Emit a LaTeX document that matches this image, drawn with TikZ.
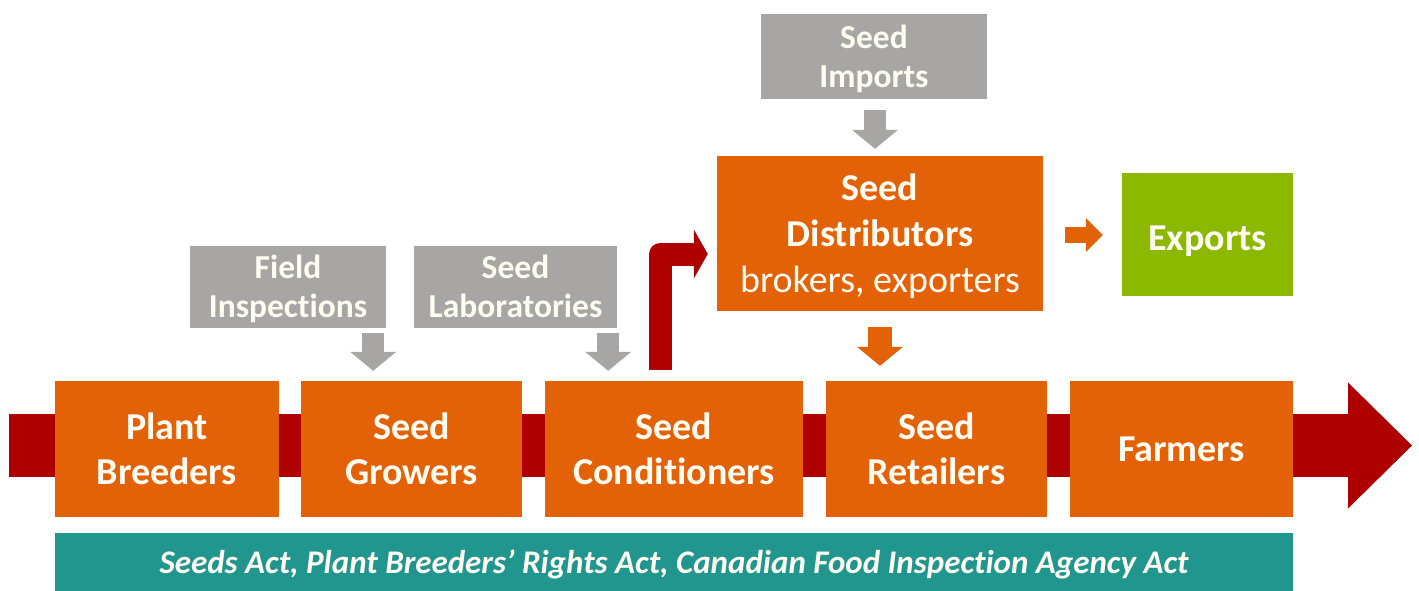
\documentclass[tikz,border=0pt]{standalone}
\usepackage{fontspec}
\setmainfont[Ligatures=NoCommon]{Carlito}
\usetikzlibrary{arrows.meta,calc}
\definecolor{boxorange}{RGB}{227,98,8}
\definecolor{flowred}{RGB}{175,0,0}
\definecolor{boxgray}{RGB}{168,166,164}
\definecolor{lawteal}{RGB}{33,150,143}
\definecolor{exgreen}{RGB}{140,184,0}
\definecolor{boxtext}{RGB}{255,252,242}
\tikzset{
  box/.style={inner sep=0pt, align=center, text=boxtext, text depth=0pt,
    font=\bfseries\fontsize{38}{45}\selectfont},
  stagebox/.style={box, fill=boxorange, minimum height=136pt},
  checkbox/.style={box, fill=boxgray, minimum height=82pt,
    font=\bfseries\fontsize{33.5}{39}\selectfont},
  grayarrow/.style={draw=boxgray, line width=22pt,
    -{Triangle[width=46pt,length=19pt,line width=0pt]}},
  orangearrow/.style={draw=boxorange, line width=24pt,
    -{Triangle[width=46pt,length=19pt,line width=0pt]}},
}
\begin{document}
\begin{tikzpicture}[x=1pt,y=-1pt]
\useasboundingbox[fill=white] (0,0) rectangle (1419,591);

% main flow arrow behind the stages
\coordinate (flowstart) at (9,445.5);
\coordinate (flowend) at (1412,445.5);
\draw[flowred, line width=63pt,
  -{Triangle[width=126pt,length=64pt,line width=0pt]}] (flowstart) -- (flowend);

% stages of the seed chain
\node[stagebox, minimum width=224pt] (pb) at (167,449) {Plant\\Breeders};
\node[stagebox, minimum width=221pt] (sg) at (411.5,449) {Seed\\Growers};
\node[stagebox, minimum width=258pt] (sc) at (674,449) {Seed\\Conditioners};
\node[stagebox, minimum width=221pt] (sr) at (936.5,449) {Seed\\Retailers};
\node[stagebox, minimum width=223pt] (fa) at (1181.5,449) {Farmers};

% distribution branch
\node[box, fill=boxorange, minimum width=326pt, minimum height=155pt,
  font=\fontsize{38}{46}\selectfont] (sd) at (880,233.5)
  {\textbf{Seed}\\\textbf{Distributors}\\brokers, exporters};
\node[box, fill=exgreen, minimum width=171pt, minimum height=123pt,
  text height=31pt] (ex) at (1207.5,234.5) {Exports};

% inspection and import inputs
\node[checkbox, minimum width=196pt] (fi) at (288,286.5) {Field\\Inspections};
\node[checkbox, minimum width=203pt] (sl) at (515.5,286.5) {Seed\\Laboratories};
\node[checkbox, minimum width=226pt, minimum height=85pt] (si) at (874,56.5) {Seed\\Imports};

% legislation bar
\node[box, fill=lawteal, minimum width=1238pt, minimum height=58pt,
  font=\bfseries\itshape\fontsize{33}{38}\selectfont] (law) at (674,562)
  {Seeds Act, Plant Breeders’ Rights Act, Canadian Food Inspection Agency Act};

% input arrows
\draw[grayarrow, shorten <=5pt, shorten >=10pt]
  ([xshift=-13pt]fi.south east) -- ([xshift=-13pt]fi.south east |- sg.north);
\draw[grayarrow, shorten <=5pt, shorten >=10pt]
  ([xshift=-9pt]sl.south east) -- ([xshift=-9pt]sl.south east |- sc.north);
\draw[grayarrow, shorten <=11pt, shorten >=7pt]
  ([xshift=1pt]si.south) -- ([xshift=1pt]si.south |- sd.north);

% branch from conditioners up to distributors
\draw[flowred, line width=23pt, line join=round, shorten <=11pt, shorten >=9pt,
  -{Triangle[width=49pt,length=14pt,line width=0pt]}]
  ([xshift=-13.5pt]sc.north) |- ([yshift=-20.5pt]sd.west);

% distributor outputs
\draw[orangearrow, shorten <=16pt, shorten >=15pt] (sd.south) -- (sd.south |- sr.north);
\draw[draw=boxorange, line width=16pt, shorten <=22pt, shorten >=19pt,
  -{Triangle[width=34pt,length=17pt,line width=0pt]}]
  ([yshift=-1.5pt]sd.east) -- ([yshift=-1.5pt]sd.east -| ex.west);
\end{tikzpicture}
\end{document}
